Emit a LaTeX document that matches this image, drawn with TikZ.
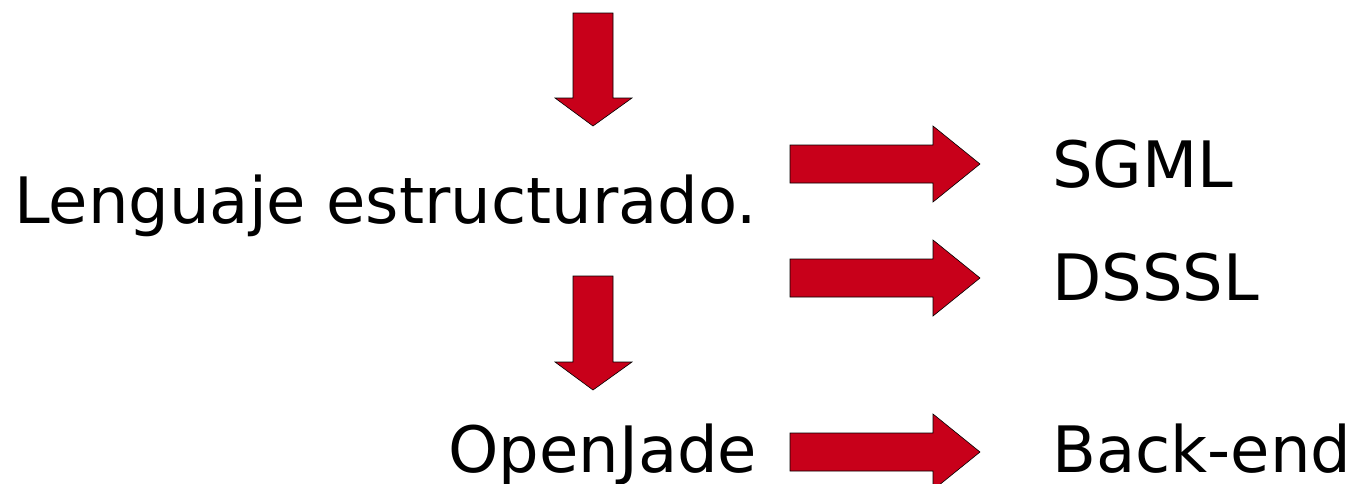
\documentclass[tikz,border=0pt]{standalone}
\usepackage{fontspec}
\setmainfont{DejaVu Sans}
\definecolor{arrowred}{RGB}{200,0,26}
\tikzset{
  blockarrow/.style={fill=arrowred, draw=black, line width=0.6pt, line join=miter},
  label/.style={inner sep=0pt, anchor=base west, font=\fontsize{64}{68}\selectfont}
}
\begin{document}
\begin{tikzpicture}[x=1pt,y=-1pt]
    \useasboundingbox (0,0) rectangle (1351,483);
    % down arrows
    \foreach \t/\h/\b in {13/98/126, 276/362/390}
    \draw [blockarrow] (573,\t) -- (613,\t) -- (613,\h) -- (632,\h) -- (593,\b) -- (555,\h) -- (573,\h) -- cycle;
    % right arrows
    \foreach \c in {164, 278, 452}
    \draw [blockarrow] (790,\c-19) -- (933,\c-19) -- (933,\c-38) -- (980,\c) -- (933,\c+38) -- (933,\c+19) -- (790,\c+19) -- cycle;
    \node [label] (lenguaje) at (14,223) {Lenguaje estructurado.};
    \node [label] (openjade) at (448,472) {OpenJade};
    \node [label] (sgml) at (1052,187) {SGML};
    \node [label] (dsssl) at (1052,300) {DSSSL};
    \node [label] (backend) at (1052,472) {Back-end};
\end{tikzpicture}
\end{document}
